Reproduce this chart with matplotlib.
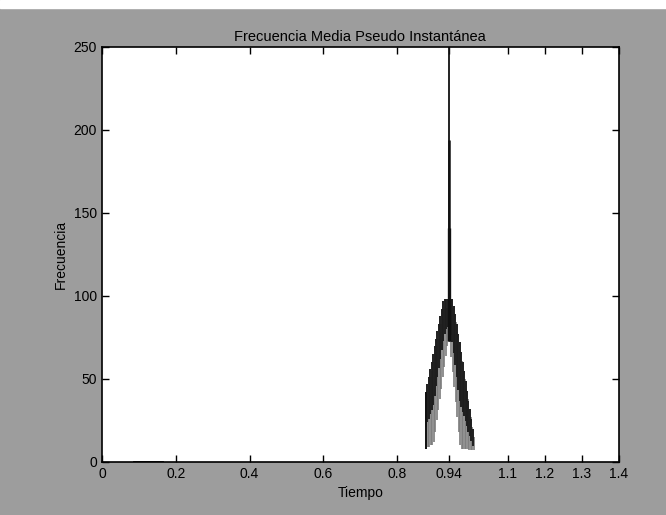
import numpy as np
import matplotlib
matplotlib.use("Agg")
import matplotlib.pyplot as plt

plt.rcParams['font.family'] = ['Liberation Sans', 'DejaVu Sans']

# ramas de la "flecha" (lineas verticales de la oscilacion)
t_izq = [0.877, 0.881, 0.885, 0.889, 0.893, 0.897, 0.901, 0.905,
         0.909, 0.913, 0.917, 0.921, 0.925, 0.929, 0.933, 0.937]
sup_izq = [42, 47, 51, 56, 60, 65, 70, 74, 79, 83, 88, 92, 97, 98, 98, 98]
inf_izq = [8, 9, 9, 10, 10, 12, 18, 25, 31, 38, 44, 51, 57, 64, 70, 73]

t_der = [0.941, 0.945, 0.949, 0.953, 0.957, 0.961, 0.965, 0.969, 0.973,
         0.977, 0.981, 0.985, 0.989, 0.993, 0.997, 1.001, 1.005]
sup_der = [98, 98, 98, 94, 89, 83, 77, 72, 66, 60, 55, 49, 43, 37, 32, 26, 20]
inf_der = [72, 63, 54, 45, 36, 27, 18, 10, 8, 8, 8, 8, 8, 7, 7, 7, 7]

# pico central
t_pico = [0.9395, 0.9402, 0.9408]
sup_pico = [250, 194, 141]
inf_pico = [73, 73, 73]

# tramo en cero
t_cero = [0.087, 0.163]
f_cero = [0, 0]

xticks = [0, 0.2, 0.4, 0.6, 0.8, 0.94, 1.1, 1.2, 1.3, 1.4]
xticklabels = ['0', '0.2', '0.4', '0.6', '0.8', '0.94', '1.1', '1.2', '1.3', '1.4']
yticks = [0, 50, 100, 150, 200, 250]

fig = plt.figure(figsize=(6.66, 5.15), dpi=100, facecolor='#9d9d9d')
fig.patches.append(plt.Rectangle((0, 0.985), 1, 0.015, transform=fig.transFigure,
                                 color='white', zorder=0))
ax = fig.add_axes([0.153, 0.103, 0.776, 0.806])
ax.set_facecolor('white')

t_all = np.array(t_izq + t_der)
sup = np.array(sup_izq + sup_der)
inf = np.array(inf_izq + inf_der)

# parte gris (interior) y parte oscura (exterior)
ax.vlines(t_all + 0.0018, inf, sup - 5, colors='#7c7c7c', lw=1.2)
ax.vlines(t_all, (inf + sup) / 2 - 4, sup, colors='#1e1e1e', lw=1.4)
ax.vlines(t_all[:1], inf[:1], sup[:1], colors='#111111', lw=1.4)
ax.vlines(t_pico, inf_pico, sup_pico, colors='#111111', lw=[1.3, 1.8, 2.4])
ax.plot(t_cero, f_cero, color='#111111', lw=2)

ax.set_xlim(0, 1.4)
ax.set_ylim(0, 250)
ax.set_xticks(xticks)
ax.set_xticklabels(xticklabels)
ax.set_yticks(yticks)
ax.tick_params(direction='in', length=5, top=True, right=True, labelsize=10, width=1)
for s in ax.spines.values():
    s.set_linewidth(1.2)

ax.set_title('Frecuencia Media Pseudo Instantánea', fontsize=10.5, pad=4)
ax.set_xlabel('Tiempo', fontsize=10, labelpad=4)
ax.set_ylabel('Frecuencia', fontsize=10, labelpad=4)

fig.savefig('out.png', dpi=100, facecolor=fig.get_facecolor())
